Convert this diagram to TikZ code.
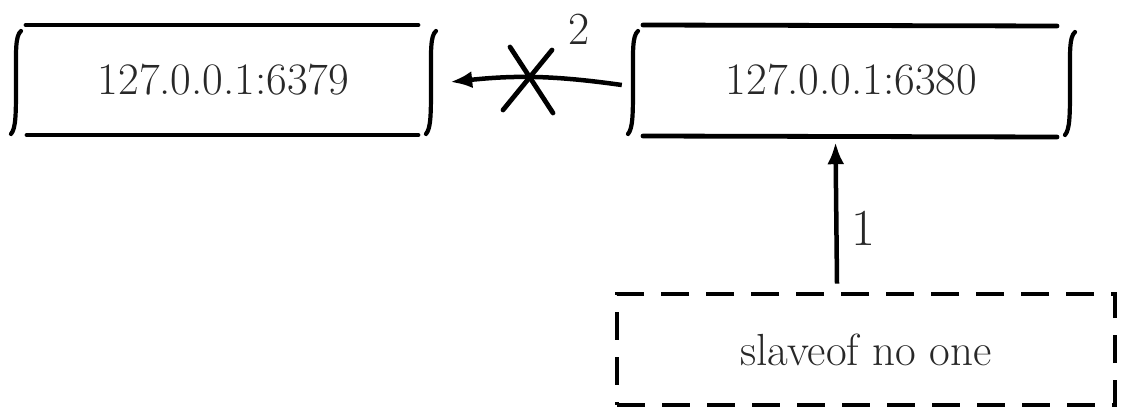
\documentclass[tikz,border=0pt]{standalone}
\usetikzlibrary{arrows.meta}
\definecolor{txt}{RGB}{40,40,40}
\tikzset{
  line/.style={line width=4.8pt,line cap=round},
  brkline/.style={line width=4.2pt,line cap=round},
  bracket/.pic={\draw[brkline] (5,-51) .. controls (-1,-46) and (0,-30) .. (0,0) .. controls (0,32) and (0,46) .. (-5,52);},
  srv/.style={minimum height=112pt,inner sep=0pt,text=txt,font=\fontsize{45}{50}\selectfont},
  arr/.style={line width=4.5pt,-{Latex[length=22pt,width=17pt]}},
  lbl/.style={text=txt,inner sep=0pt,anchor=center}
}
\begin{document}
\begin{tikzpicture}[x=1pt,y=-1pt]
\useasboundingbox (0,0) rectangle (1123,412);
% server boxes (nodes span brackets)
\node[srv,minimum width=423pt] (b1) at (223.5,80) {127.0.0.1:6379};
\node[srv,minimum width=443pt] (b2) at (851.5,80) {127.0.0.1:6380};
% decorations of box 1
\draw[line] (26,25) -- (418,25);
\draw[line] (27,135) -- (418,135);
\pic at (16,82) {bracket};
\pic at (431,82) {bracket};
% decorations of box 2
\draw[line] (643,25) -- (1057,26);
\draw[line] (643,136) -- (1057,137);
\pic at (633,82) {bracket};
\pic at (1070,83) {bracket};
% command box
\node[draw,line width=4.8pt,dash pattern=on 28pt off 17pt,minimum width=498pt,minimum height=111pt,
      text=txt,font=\fontsize{45}{50}\selectfont] (cmd) at (866,349.5) {slaveof no one};
% arrow 1: command -> b2
\draw[arr] ([xshift=-29pt,yshift=8pt]cmd.north) -- node[lbl,pos=0.4,xshift=27pt,yshift=-1pt,font=\fontsize{52}{56}\selectfont] (one) {1} ([xshift=-16pt,yshift=-6pt]b2.south);
% arrow 2: b2 -> b1 (cut)
\draw[arr] ([xshift=-8pt,yshift=-5pt]b2.west) to[out=172,in=6] node[lbl,pos=0.38,xshift=24pt,yshift=49pt,font=\fontsize{46}{50}\selectfont] (two) {2} ([xshift=15pt,yshift=-2pt]b1.east);
% cross
\draw[line] (503,110) -- (552,50);
\draw[line] (510,47) -- (553,113);
\end{tikzpicture}
\end{document}
